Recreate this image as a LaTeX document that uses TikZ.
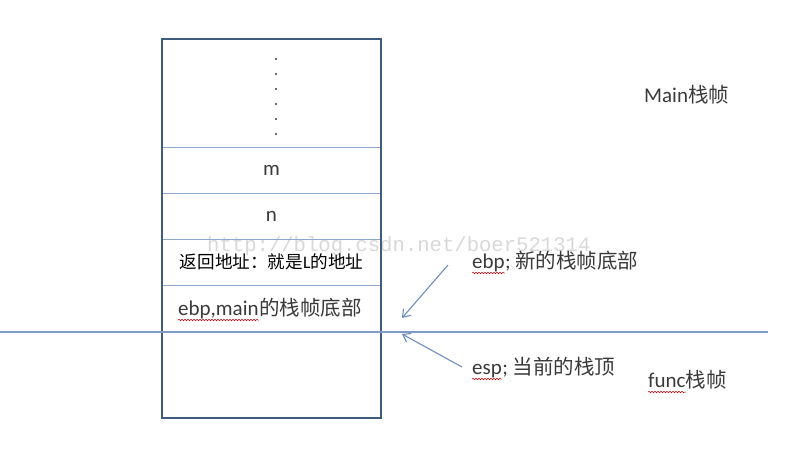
\documentclass[tikz,border=0pt]{standalone}
\usepackage{fontspec}
\setmainfont{Carlito}
\newfontfamily\cjk{Noto Sans CJK SC}
\newfontfamily\wmfont{Liberation Mono}
\usetikzlibrary{positioning,arrows.meta,decorations.pathmorphing}

\definecolor{frameblue}{HTML}{3F5B7D}
\definecolor{rowblue}{HTML}{8DA8CC}
\definecolor{lineblue}{HTML}{7F9CC4}
\definecolor{ptrblue}{HTML}{6E8FBF}
\definecolor{txtgray}{HTML}{3A3A3A}

\tikzset{
	cell/.style={draw=rowblue, line width=1pt, minimum width=219pt, inner sep=0pt, outer sep=0pt, text=txtgray, font=\fontsize{21}{21}\selectfont},
	word/.style={inner sep=0pt, text=txtgray, font=\fontsize{21}{21}\selectfont},
	hanzi/.style={inner sep=0pt, text=txtgray, font=\cjk\fontsize{20.5}{20.5}\selectfont},
	ptr/.style={draw=ptrblue, line width=1.1pt, -{Straight Barb[length=7pt,width=10pt]}},
	squiggle/.style={draw=red!75!black, line width=0.5pt, decorate, decoration={snake, amplitude=0.8pt, segment length=3pt}},
}

\begin{document}
\begin{tikzpicture}[x=1pt,y=-1pt]
\useasboundingbox[fill=white] (0,0) rectangle (794,450);
%watermark
\node[anchor=base west, inner sep=0pt, text=gray, opacity=0.3, font=\wmfont\fontsize{20.6}{20.6}\selectfont] (wm) at (207,251) {http://blog.csdn.net/boer521314};

%the stack, top to bottom
\node[cell, minimum height=108pt] (dots) at (271.5,93) {};
\node[cell, minimum height=46pt, below=0pt of dots] (m) {m};
\node[cell, minimum height=46pt, below=0pt of m] (n) {n};
\node[cell, minimum height=46pt, below=0pt of n, text=black, font=\fontsize{17.6}{17.6}\selectfont] (ret) {{\cjk 返回地址：就是}L{\cjk 的地址}};
\node[cell, minimum height=47pt, below=0pt of ret] (oldebp) {};
\node[cell, minimum height=86pt, below=0pt of oldebp] (free) {};
\draw[frameblue, line width=1.8pt] (dots.north west) rectangle (free.south east);

\foreach \k in {0,...,5}{
	\fill[txtgray] (276,59+15*\k) circle (1.2pt);
}

\node[word, anchor=base west] (oldword) at (178,315) {ebp,main};
\node[hanzi, anchor=base west] (oldtext) at (oldword.base east) {的栈帧底部};
\draw[squiggle] ([yshift=-5pt]oldword.base west) -- ([yshift=-5pt]oldword.base east);

%line between the two frames
\coordinate (lineL) at (0,332);
\coordinate (lineR) at (768,332);
\draw[lineblue, line width=1.5pt] (lineL) -- (lineR);

%labels on the right
\node[word, anchor=base west] (mainword) at (644,102) {Main};
\node[hanzi, anchor=base west] (maintext) at (mainword.base east) {栈帧};

\node[word, anchor=base west] (ebpword) at (472,268) {ebp};
\node[hanzi, anchor=base west] (ebptext) at (ebpword.base east) {{\fontsize{21}{21}\selectfont\rmfamily; }新的栈帧底部};
\draw[squiggle] ([yshift=-5pt]ebpword.base west) -- ([yshift=-5pt]ebpword.base east);

\node[word, anchor=base west] (espword) at (472,374) {esp};
\node[hanzi, anchor=base west] (esptext) at (espword.base east) {{\fontsize{21}{21}\selectfont\rmfamily; }当前的栈顶};
\draw[squiggle] ([yshift=-5pt]espword.base west) -- ([yshift=-5pt]espword.base east);

\node[word, anchor=base west] (funcword) at (648,387) {func};
\node[hanzi, anchor=base west] (functext) at (funcword.base east) {栈帧};
\draw[squiggle] ([yshift=-5pt]funcword.base west) -- ([yshift=-5pt]funcword.base east);

%pointers
\coordinate (ebptail) at (448,265);
\coordinate (ebptip) at (402,318);
\coordinate (esptail) at (462,367);
\coordinate (esptip) at (402,334);
\draw[ptr] (ebptail) -- (ebptip);
\draw[ptr] (esptail) -- (esptip);
\end{tikzpicture}
\end{document}
